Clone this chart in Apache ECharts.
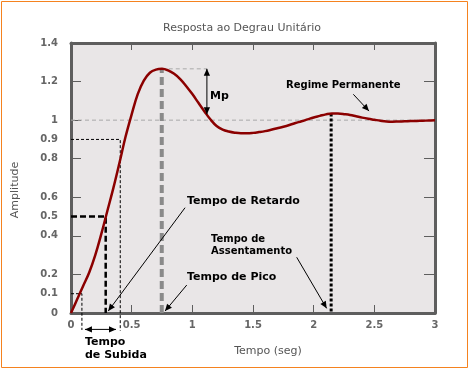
<!DOCTYPE html>
<html><head><meta charset="utf-8">
<script src="https://cdn.jsdelivr.net/npm/echarts@6/dist/echarts.min.js"></script>
<style>html,body{margin:0;padding:0;background:#fff}#c{width:470px;height:370px}</style>
</head><body><div id="c"></div>
<script>
// ---- data (time in s, every 0.05 s) ----
const tempo = [0, 0.05, 0.1, 0.15, 0.2, 0.25, 0.3, 0.35, 0.4, 0.45, 0.5, 0.55, 0.6, 0.65, 0.7, 0.75, 0.8, 0.85, 0.9, 0.95,
  1, 1.05, 1.1, 1.15, 1.2, 1.25, 1.3, 1.35, 1.4, 1.45, 1.5, 1.55, 1.6, 1.65, 1.7, 1.75, 1.8, 1.85, 1.9, 1.95,
  2, 2.05, 2.1, 2.15, 2.2, 2.25, 2.3, 2.35, 2.4, 2.45, 2.5, 2.55, 2.6, 2.65, 2.7, 2.75, 2.8, 2.85, 2.9, 2.95, 3];
const amplitude = [0, 0.07, 0.14, 0.21, 0.30, 0.41, 0.53, 0.65, 0.78, 0.915, 1.03, 1.135, 1.205, 1.246, 1.262, 1.266, 1.258, 1.24, 1.213, 1.176,
  1.135, 1.09, 1.045, 1.003, 0.97, 0.951, 0.941, 0.935, 0.932, 0.932, 0.934, 0.938, 0.943, 0.95, 0.958, 0.966, 0.975, 0.985, 0.994, 1.004,
  1.014, 1.022, 1.03, 1.035, 1.034, 1.031, 1.027, 1.02, 1.013, 1.007, 1.002, 0.997, 0.993, 0.992, 0.993, 0.994, 0.995, 0.996, 0.997, 0.998, 0.999];
const yTickLabels = [0, 0.1, 0.2, 0.4, 0.5, 0.6, 0.8, 0.9, 1, 1.2, 1.4];
const xTickLabels = [0, 0.5, 1, 1.5, 2, 2.5, 3];
// annotation key points (time, amplitude)
const pico = [0.748, 1.266];
const retardo = [0.286, 0.5];
const subida10 = [0.09, 0.1];
const subida90 = [0.406, 0.9];
const assentamento = [2.144, 1.035];
const mpEnd = [1.12, 1.03];

const FONT = '"DejaVu Sans", Verdana, sans-serif';
const AX = '#5e5e5e';
const chart = echarts.init(document.getElementById('c'), null, {renderer: 'canvas'});
const axLine = {show: true, onZero: false, lineStyle: {color: AX, width: 3}};
const tickLabel = {fontFamily: FONT, fontSize: 10, fontWeight: 'bold', color: '#666'};
const option = {
  animation: false,
  backgroundColor: '#fff',
  title: {text: 'Resposta ao Degrau Unitário', left: 158, top: 18,
    textStyle: {fontFamily: FONT, fontSize: 11, fontWeight: 'normal', color: '#555'}},
  grid: {left: 71, right: 35, top: 43, bottom: 57, show: true, backgroundColor: '#e9e6e7', borderWidth: 0},
  xAxis: [
    {type: 'value', min: 0, max: 3, interval: 0.5, position: 'bottom', axisLine: axLine,
     axisTick: {inside: true, length: 8, lineStyle: {color: AX, width: 1}},
     axisLabel: Object.assign({margin: 7, formatter: v => xTickLabels.includes(v) ? String(v) : ''}, tickLabel),
     splitLine: {show: false}},
    {type: 'value', min: 0, max: 3, interval: 0.5, position: 'top', axisLine: axLine,
     axisTick: {inside: true, length: 7, lineStyle: {color: AX, width: 1}},
     axisLabel: {show: false}, splitLine: {show: false}}
  ],
  yAxis: [
    {type: 'value', min: 0, max: 1.4, interval: 0.1, position: 'left', axisLine: axLine,
     axisTick: {show: false},
     axisLabel: Object.assign({margin: 13, formatter: v => { const r = Math.round(v * 10) / 10; return yTickLabels.includes(r) ? String(r) : ''; }}, tickLabel),
     splitLine: {show: false}},
    {type: 'value', min: 0, max: 1.4, interval: 0.2, position: 'right', axisLine: axLine,
     axisTick: {inside: true, length: 11, lineStyle: {color: AX, width: 1}},
     axisLabel: {show: false}, splitLine: {show: false}},
    {type: 'value', min: 0, max: 1.4, interval: 0.2, position: 'left', offset: 0,
     axisLine: {show: false, onZero: false},
     axisTick: {inside: true, length: 10, lineStyle: {color: AX, width: 1}},
     axisLabel: {show: false}, splitLine: {show: false}}
  ],
  series: [{
    type: 'line', xAxisIndex: 0, yAxisIndex: 0,
    data: tempo.map((t, i) => [t, amplitude[i]]),
    smooth: 0.4, symbol: 'none', z: 5,
    lineStyle: {color: '#8b0000', width: 2.5}
  }]
};
chart.setOption(option);

const P = (t, v) => chart.convertToPixel({seriesIndex: 0}, [t, v]);
function seg(pts, style, z) {
  return {type: 'polyline', silent: true, z: z || 3, shape: {points: pts},
    style: Object.assign({fill: null, stroke: '#000', lineWidth: 1}, style)};
}
function head(tip, from, size) {
  const dx = tip[0] - from[0], dy = tip[1] - from[1];
  const L = Math.hypot(dx, dy), ux = dx / L, uy = dy / L;
  const bx = tip[0] - ux * size, by = tip[1] - uy * size, w = size * 0.45;
  return {type: 'polygon', silent: true, z: 7,
    shape: {points: [[tip[0], tip[1]], [bx - uy * w, by + ux * w], [bx + uy * w, by - ux * w]]},
    style: {fill: '#000'}};
}
function arrow(a, b, both) {
  const out = [seg([a, b], {lineWidth: 1}, 7), head(b, a, 7)];
  if (both) out.push(head(a, b, 7));
  return out;
}
function txt(str, x, y, font, extra) {
  return Object.assign({type: 'text', x: x, y: y, z: 8, silent: true,
    style: {text: str, font: font, fill: '#000', textAlign: 'left', textVerticalAlign: 'middle'}}, extra || {});
}
const BOLD11 = 'bold 11px ' + FONT;
const BOLD10 = 'bold 10px ' + FONT;
const g = [];
// reference lines
g.push(seg([P(0, 1), P(3, 1)], {stroke: '#a9a9a9', lineWidth: 1, lineDash: [4, 3]}, 2));
g.push(seg([P(pico[0], pico[1]), P(mpEnd[0], pico[1])], {stroke: '#a9a9a9', lineWidth: 1, lineDash: [4, 3]}, 2));
g.push(seg([P(pico[0], 0), P(pico[0], pico[1])], {stroke: '#8a8a8a', lineWidth: 4, lineDash: [8, 4]}, 3));
g.push(seg([P(0, retardo[1]), P(retardo[0], retardo[1]), P(retardo[0], 0)], {lineWidth: 2.5, lineDash: [6, 3]}, 3));
g.push(seg([P(0, subida90[1]), P(subida90[0], subida90[1]), P(subida90[0], -0.092)], {lineWidth: 1, lineDash: [3, 2]}, 3));
g.push(seg([P(0, subida10[1]), P(subida10[0], subida10[1]), P(subida10[0], -0.088)], {lineWidth: 1, lineDash: [3, 2]}, 3));
g.push(seg([P(assentamento[0], assentamento[1]), P(assentamento[0], 0)], {lineWidth: 3, lineDash: [3, 2]}, 3));
// arrows
g.push(...arrow(P(mpEnd[0], pico[1]), P(mpEnd[0], mpEnd[1]), true));
g.push(...arrow(P(0.115, -0.085), P(0.371, -0.085), true));
g.push(...arrow(P(0.94, 0.546), P(0.307, 0.01)));
g.push(...arrow(P(0.954, 0.145), P(0.775, 0.01)));
g.push(...arrow(P(1.86, 0.289), P(2.107, 0.024)));
g.push(...arrow(P(2.327, 1.134), P(2.456, 1.047)));
// texts
g.push(txt('Mp', 210, 96, BOLD11));
g.push(txt('Regime Permanente', 286, 85.5, BOLD10));
g.push(txt('Tempo de Retardo', 187, 201, BOLD11));
g.push(txt('Tempo de Pico', 187, 277, BOLD11));
g.push(txt('Tempo de', 211, 239, BOLD10));
g.push(txt('Assentamento', 211, 251, BOLD10));
g.push(txt('Tempo', 85, 342, BOLD11));
g.push(txt('de Subida', 85, 355, BOLD11));
g.push(txt('Tempo (seg)', 268, 351, '11px ' + FONT, {style: {text: 'Tempo (seg)', font: '11px ' + FONT, fill: '#555', textAlign: 'center', textVerticalAlign: 'middle'}}));
g.push(txt('Amplitude', 15, 190, '11px ' + FONT, {rotation: Math.PI / 2, style: {text: 'Amplitude', font: '11px ' + FONT, fill: '#555', textAlign: 'center', textVerticalAlign: 'middle'}}));
// frame
g.push({type: 'rect', silent: true, z: 9, shape: {x: 1.5, y: 1.5, width: 466, height: 366}, style: {fill: null, stroke: '#f5821f', lineWidth: 1}});
chart.setOption({graphic: g});
</script>
</body></html>
